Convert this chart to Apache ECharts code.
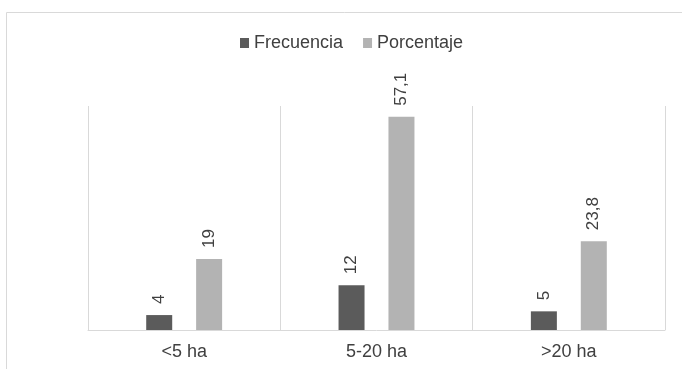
<!DOCTYPE html>
<html>
<head>
<meta charset="utf-8">
<script src="https://cdn.jsdelivr.net/npm/echarts@6/dist/echarts.min.js"></script>
<style>
html,body{margin:0;padding:0;background:#fff;}
#c{width:682px;height:369px;}
</style>
</head>
<body>
<div id="c"></div>
<script>
const categories = ['<5 ha', '5-20 ha', '>20 ha'];
const frecuencia = [4, 12, 5];
const porcentaje = [19, 57.1, 23.8];
const seriesNames = ['Frecuencia', 'Porcentaje'];

const chart = echarts.init(document.getElementById('c'), null, {renderer: 'canvas'});
const font = '"Liberation Sans", Arial, sans-serif';
const fmt = p => String(p.value).replace('.', ',');
const labelCfg = {
  show: true,
  position: 'top',
  rotate: 90,
  align: 'left',
  verticalAlign: 'middle',
  distance: 11,
  color: '#404040',
  fontSize: 17,
  fontFamily: font,
  formatter: fmt
};
chart.setOption({
  animation: false,
  graphic: [{
    type: 'rect',
    shape: {x: 6.5, y: 12.5, width: 700, height: 400},
    style: {fill: 'none', stroke: '#d9d9d9', lineWidth: 1},
    silent: true
  }],
  legend: {
    data: seriesNames,
    left: 235,
    top: 29,
    itemWidth: 9,
    itemHeight: 10,
    itemGap: 20,
    icon: 'rect',
    textStyle: {color: '#404040', fontSize: 18, fontFamily: font}
  },
  grid: {left: 88, right: 17, top: 106, bottom: 39, containLabel: false},
  xAxis: {
    type: 'category',
    data: categories,
    axisLine: {show: true, lineStyle: {color: '#d9d9d9', width: 1}},
    axisTick: {show: false},
    splitLine: {show: true, lineStyle: {color: '#d9d9d9', width: 1}},
    axisLabel: {color: '#404040', fontSize: 18, fontFamily: font, margin: 13}
  },
  yAxis: {
    type: 'value',
    min: 0,
    max: 60,
    interval: 10,
    show: false,
    splitLine: {show: false}
  },
  series: [
    {
      name: seriesNames[0],
      type: 'bar',
      data: frecuencia,
      barWidth: 26,
      barGap: '92%',
      itemStyle: {color: '#5b5b5b'},
      label: labelCfg
    },
    {
      name: seriesNames[1],
      type: 'bar',
      data: porcentaje,
      barWidth: 26,
      itemStyle: {color: '#b3b3b3'},
      label: labelCfg
    }
  ]
});
</script>
</body>
</html>
